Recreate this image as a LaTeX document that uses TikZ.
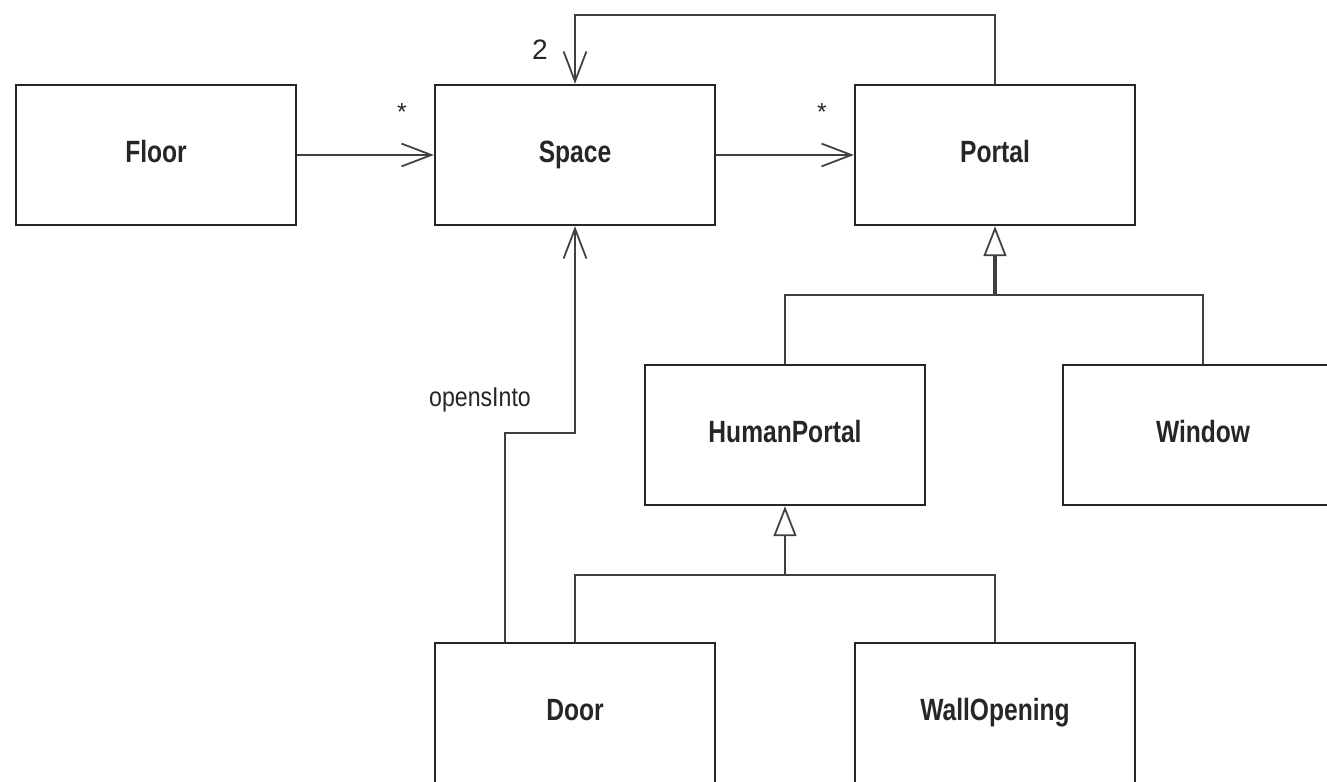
\documentclass[tikz,border=0pt]{standalone}
\usepackage{fontspec}
\setmainfont{Liberation Sans}
\newfontfamily\cond[FakeStretch=0.8]{Liberation Sans}
\newfontfamily\condl[FakeStretch=0.85]{Liberation Sans}
\usetikzlibrary{arrows.meta}
\begin{document}
\begin{tikzpicture}[x=0.02cm,y=-0.02cm,
  cls/.style={draw=black!85, line width=1.4pt, fill=white, minimum width=5.6cm, minimum height=2.8cm, inner sep=0pt,
    text height=12pt, text depth=3pt,
    font=\cond\bfseries\fontsize{17.5}{20}\selectfont, text=black!85},
  link/.style={draw=black!75, line width=1pt},
  nav/.style={link, -{Straight Barb[length=17pt,width=13pt,line width=1pt]}},
  gen/.style={link, -{Triangle[open,fill=white,length=17pt,width=13pt,line width=1pt]}},
  lbl/.style={text=black!85, inner sep=0pt}]
\clip (0,0) rectangle (1327,781);
\fill[white] (0,0) rectangle (1327,781);
\node[cls] (floor) at (156,155) {Floor};
\node[cls] (space) at (575,155) {Space};
\node[cls] (portal) at (995,155) {Portal};
\node[cls] (hp) at (785,435) {HumanPortal};
\node[cls] (win) at (1203,435) {Window};
\node[cls] (door) at (575,713) {Door};
\node[cls] (wall) at (995,713) {WallOpening};
% associations
\draw[nav] (floor.east) -- (space.west);
\draw[nav] (space.east) -- (portal.west);
\coordinate (loop) at (575,15);
\draw[nav] (portal.north) |- (loop) -- (space.north);
\coordinate (bendA) at (505,433);
\coordinate (bendB) at (575,433);
\draw[nav] (bendA |- door.north) -- (bendA) -- (bendB) -- (space.south);
% generalizations
\coordinate (g1) at (995,295);
\draw[link] (hp.north) |- (g1) -| (win.north);
\draw[gen, line width=1.8pt] (g1) -- (portal.south);
\coordinate (g2) at (785,575);
\draw[link] (door.north) |- (g2) -| (wall.north);
\draw[gen] (g2) -- (hp.south);
% labels
\node[lbl, font=\fontsize{14}{16}\selectfont] (m1) at (402,112) {*};
\node[lbl, font=\fontsize{14}{16}\selectfont] (m2) at (822,112) {*};
\node[lbl, font=\fontsize{16}{18}\selectfont] (m3) at (540,50) {2};
\node[lbl, font=\condl\fontsize{15.5}{18}\selectfont] (role) at (480,400) {opensInto};
\end{tikzpicture}
\end{document}
